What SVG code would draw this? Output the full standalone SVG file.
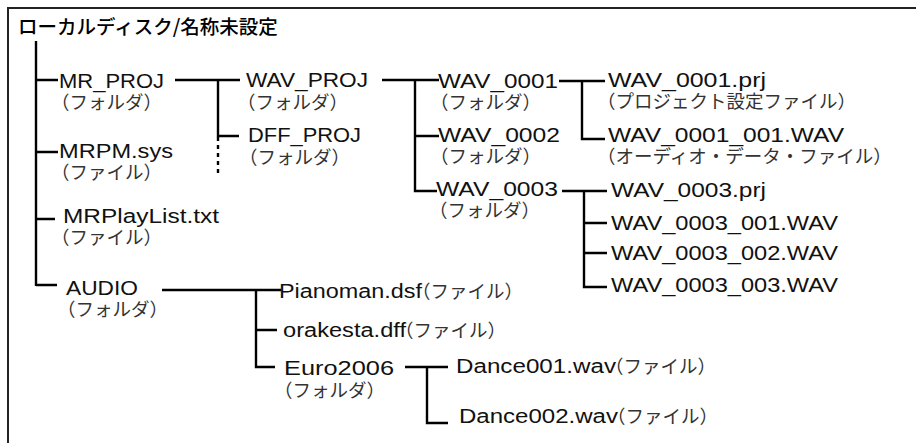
<svg xmlns="http://www.w3.org/2000/svg" width="916" height="443" viewBox="0 0 916 443">
<style>
.bg{fill:#ffffff}
.frame{fill:none;stroke:#222;stroke-width:2}
.ln{fill:none;stroke:#000;stroke-width:2.4;stroke-linecap:butt}
.dot{fill:none;stroke:#000;stroke-width:2.4;stroke-dasharray:4 4}
.t{font-family:"Liberation Sans","Noto Sans CJK JP",sans-serif;font-size:20px;fill:#111}
.s{font-family:"Liberation Sans","Noto Sans CJK JP","Noto Sans CJK SC",sans-serif;font-size:18.5px;fill:#333}
.title{font-family:"Noto Sans CJK JP","Noto Sans CJK SC",sans-serif;font-size:19.5px;font-weight:500;fill:#000}
</style>
<rect class="bg" x="0" y="0" width="916" height="443"/>
<path class="frame" d="M8,443 V8 H916"/>
<g id="connectors">
<path class="ln" d="M36,41 V286 M36,80 H58 M36,152 H58 M36,219 H55 M36,285 H57"/>
<path class="ln" d="M175,80 H240 M218,80 V136 H239"/>
<path class="dot" d="M218,137 V174"/>
<path class="ln" d="M382,80 H439 M415,80 V191 H437 M415,136 H439"/>
<path class="ln" d="M559,81 H605 M582,81 V139 H605"/>
<path class="ln" d="M562,191 H607 M584,191 V287 H607 M584,223 H607 M584,253 H607"/>
<path class="ln" d="M162,290 H281 M256,290 V367 H275 M256,330 H277"/>
<path class="ln" d="M405,367 H448 M427,367 V423 H448"/>
</g>
<g id="title"><text class="title" x="18" y="34">ローカルディスク/名称未設定</text></g>
<g id="mr_proj"><text class="t" x="59" y="88" textLength="105" lengthAdjust="spacingAndGlyphs">MR_PROJ</text><text class="s" x="51" y="109">（フォルダ）</text></g>
<g id="mrpm_sys"><text class="t" x="59" y="158" textLength="114" lengthAdjust="spacingAndGlyphs">MRPM.sys</text><text class="s" x="51" y="179">（ファイル）</text></g>
<g id="mrplaylist"><text class="t" x="63" y="223" textLength="156" lengthAdjust="spacingAndGlyphs">MRPlayList.txt</text><text class="s" x="51" y="244">（ファイル）</text></g>
<g id="audio"><text class="t" x="66" y="295" textLength="72" lengthAdjust="spacingAndGlyphs">AUDIO</text><text class="s" x="57" y="316">（フォルダ）</text></g>
<g id="wav_proj"><text class="t" x="246" y="87" textLength="122" lengthAdjust="spacingAndGlyphs">WAV_PROJ</text><text class="s" x="237" y="109">（フォルダ）</text></g>
<g id="dff_proj"><text class="t" x="248" y="142" textLength="113" lengthAdjust="spacingAndGlyphs">DFF_PROJ</text><text class="s" x="239" y="164">（フォルダ）</text></g>
<g id="wav_0001"><text class="t" x="438" y="88" textLength="120" lengthAdjust="spacingAndGlyphs">WAV_0001</text><text class="s" x="430" y="109">（フォルダ）</text></g>
<g id="wav_0002"><text class="t" x="438" y="142" textLength="122" lengthAdjust="spacingAndGlyphs">WAV_0002</text><text class="s" x="430" y="163">（フォルダ）</text></g>
<g id="wav_0003"><text class="t" x="436" y="196" textLength="122" lengthAdjust="spacingAndGlyphs">WAV_0003</text><text class="s" x="429" y="217">（フォルダ）</text></g>
<g id="wav_0001_prj"><text class="t" x="608" y="87" textLength="158" lengthAdjust="spacingAndGlyphs">WAV_0001.prj</text><text class="s" x="597" y="108">（プロジェクト設定ファイル）</text></g>
<g id="wav_0001_001"><text class="t" x="608" y="142" textLength="236" lengthAdjust="spacingAndGlyphs">WAV_0001_001.WAV</text><text class="s" x="597" y="163">（オーディオ・データ・ファイル）</text></g>
<g id="wav_0003_prj"><text class="t" x="611" y="197" textLength="155" lengthAdjust="spacingAndGlyphs">WAV_0003.prj</text></g>
<g id="wav_0003_001"><text class="t" x="611" y="230" textLength="227" lengthAdjust="spacingAndGlyphs">WAV_0003_001.WAV</text></g>
<g id="wav_0003_002"><text class="t" x="611" y="260" textLength="227" lengthAdjust="spacingAndGlyphs">WAV_0003_002.WAV</text></g>
<g id="wav_0003_003"><text class="t" x="611" y="292" textLength="227" lengthAdjust="spacingAndGlyphs">WAV_0003_003.WAV</text></g>
<g id="pianoman"><text class="t" x="279" y="298"><tspan textLength="143" lengthAdjust="spacingAndGlyphs">Pianoman.dsf</tspan><tspan class="s" x="412">（ファイル）</tspan></text></g>
<g id="orakesta"><text class="t" x="283" y="337"><tspan textLength="123" lengthAdjust="spacingAndGlyphs">orakesta.dff</tspan><tspan class="s" x="395">（ファイル）</tspan></text></g>
<g id="euro2006"><text class="t" x="284" y="375" textLength="110" lengthAdjust="spacingAndGlyphs">Euro2006</text><text class="s" x="274" y="397">（フォルダ）</text></g>
<g id="dance001"><text class="t" x="456" y="373"><tspan textLength="160" lengthAdjust="spacingAndGlyphs">Dance001.wav</tspan><tspan class="s" x="605">（ファイル）</tspan></text></g>
<g id="dance002"><text class="t" x="459" y="423"><tspan textLength="159" lengthAdjust="spacingAndGlyphs">Dance002.wav</tspan><tspan class="s" x="607">（ファイル）</tspan></text></g>
</svg>
